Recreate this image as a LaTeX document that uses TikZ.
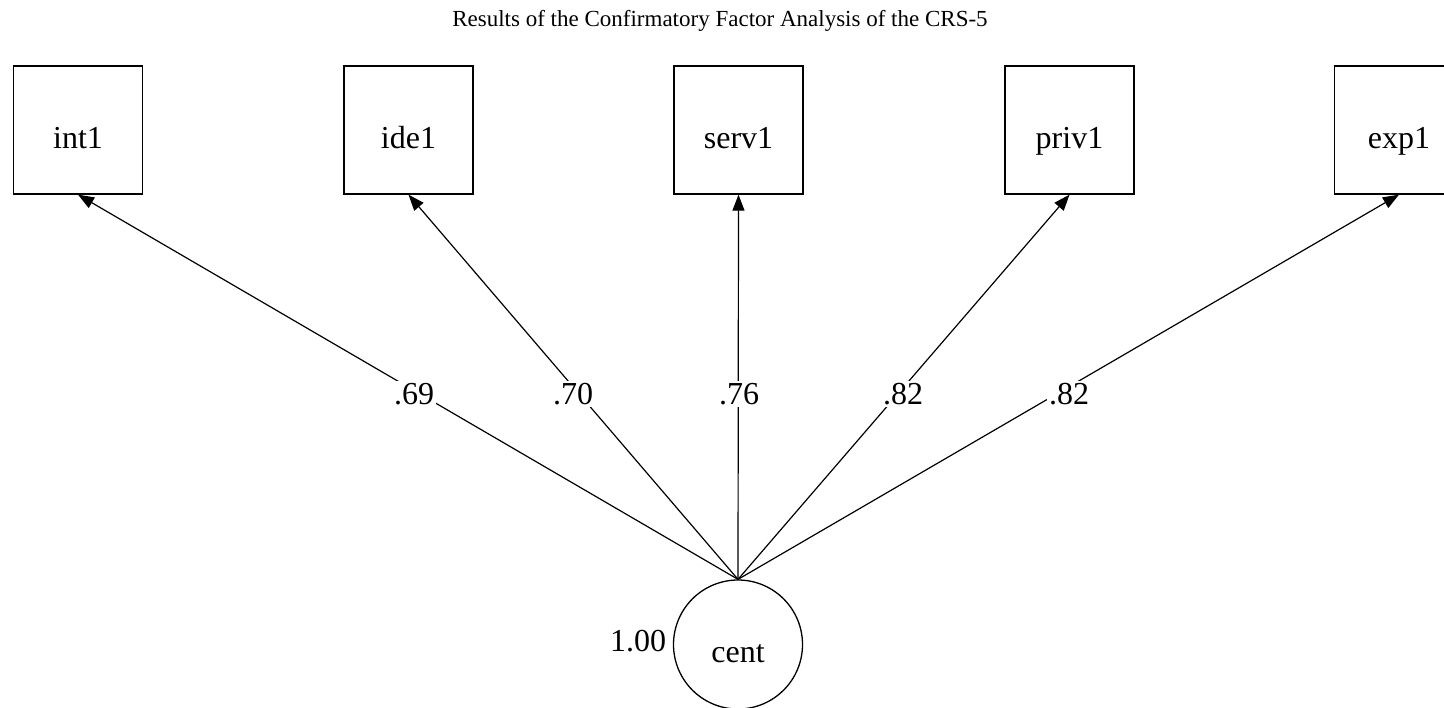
\documentclass[tikz,border=0pt]{standalone}
\usepackage{fontspec}
\setmainfont{Liberation Serif}
\usetikzlibrary{arrows.meta}
\begin{document}
\begin{tikzpicture}[x=0.5pt,y=-0.5pt,
  obs/.style={draw,line width=0.65pt,fill=white,minimum width=64.5pt,minimum height=64pt,inner sep=0pt,text height=18pt,text depth=0pt,font=\fontsize{16}{18}\selectfont},
  lat/.style={draw,circle,line width=0.65pt,fill=white,minimum size=64.5pt,inner sep=0pt,text height=17.5pt,text depth=0pt,font=\fontsize{16}{18}\selectfont},
  path/.style={line width=0.6pt,-{Triangle[length=8pt,width=6pt]}},
  coef/.style={fill=white,inner sep=1pt,font=\fontsize{16}{18}\selectfont},
  ttl/.style={font=\fontsize{11.5}{13}\selectfont}]
\useasboundingbox (0,0) rectangle (1444,707);
\node[ttl] (title) at (720,21) {Results of the Confirmatory Factor Analysis of the CRS-5};
% latent factor
\node[lat] (cent) at (738,644.5) {cent};
\node[font=\fontsize{16}{18}\selectfont] (var) at (638,641) {1.00};
% indicators
\node[obs] (int1) at (78,130) {int1};
\node[obs] (ide1) at (408.5,130) {ide1};
\node[obs] (serv1) at (738.5,130) {serv1};
\node[obs] (priv1) at (1069.5,130) {priv1};
\node[obs] (exp1) at (1399,130) {exp1};
% loadings
\foreach \t in {int1,ide1,serv1,priv1,exp1}
  \draw[path] (cent.north) -- (\t.south);
\node[coef] (l1) at (414,394) {.69};
\node[coef] (l2) at (573,394) {.70};
\node[coef] (l3) at (739,394) {.76};
\node[coef] (l4) at (903,394) {.82};
\node[coef] (l5) at (1069,394) {.82};
\end{tikzpicture}
\end{document}
